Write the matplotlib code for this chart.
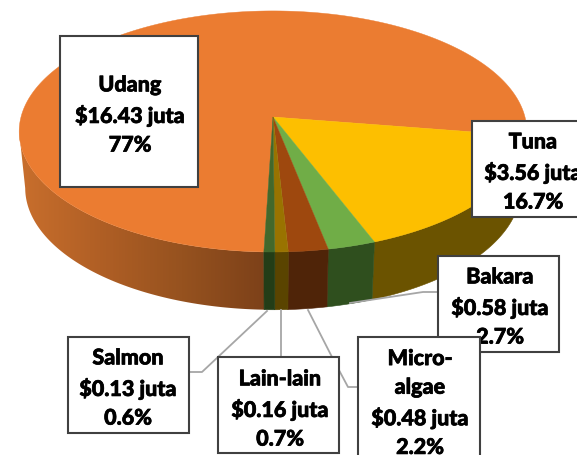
import numpy as np
import matplotlib
matplotlib.use("Agg")
import matplotlib.pyplot as plt
import matplotlib.patheffects as pe
from matplotlib.patches import Polygon, Rectangle
from matplotlib.colors import LinearSegmentedColormap

names = ["Udang", "Tuna", "Bakara", "Micro-\nalgae", "Lain-lain", "Salmon"]
values = [16.43, 3.56, 0.58, 0.48, 0.16, 0.13]
pct_labels = ["77%", "16.7%", "2.7%", "2.2%", "0.7%", "0.6%"]
colors = ["#EB7C31", "#FDBF00", "#70AD47", "#9E480E", "#997300", "#43682B"]
side_colors = ["#8A4A1E", "#6B5300", "#2F4F1E", "#4F2408", "#5A4400", "#233D17"]

plt.rcParams['font.family'] = ['Lato', 'DejaVu Sans']
fig = plt.figure(figsize=(5.77, 4.56), dpi=100)
ax = fig.add_axes([0, 0, 1, 1])

# tilted pie, circle mapped with a bit of perspective
def top_xy(t):
    d = 1 + 0.12 * np.sin(t)
    return 273 + 252 * np.cos(t) / d, 118 - 118.8 * np.sin(t) / d

def bot_xy(t):
    d = 1 + 0.12 * np.sin(t)
    return 273 + 246 * np.cos(t) / d, 174.4 - 120 * np.sin(t) / d

def wall(t):
    xa, ya = top_xy(t)
    xb, yb = bot_xy(t)
    return np.c_[np.r_[xa, xb[::-1]], np.r_[ya, yb[::-1]]]

total = sum(values)
# Tuna starts at -9 deg going clockwise, Udang goes round the back
a = -9.0 + 360 * values[0] / total
wedges = []
for i, v in enumerate(values):
    sweep = 360 * v / total
    wedges.append((i, a, a - sweep))
    a = a - sweep

# side wall first
for i, a0, a1 in wedges:
    t = np.radians(np.linspace(a0, a1, 300))
    if i == 0:
        # gradient on the big orange wall, only the front part shows
        t = np.radians(np.linspace(a0, 187, 300))
        clip = Polygon(wall(t), fc='none', ec='none', transform=ax.transData)
        ax.add_patch(clip)
        cmap = LinearSegmentedColormap.from_list("wall", ["#C96F2D", "#B05F25", "#96521F", "#7D4119"])
        im = ax.imshow(np.linspace(0, 1, 256)[None, :], cmap=cmap, extent=(18, 264, 320, 120), aspect='auto', zorder=1)
        im.set_clip_path(clip)
    else:
        ax.add_patch(Polygon(wall(t), fc=side_colors[i], ec=side_colors[i], lw=0.4, zorder=1))

# top face
for i, a0, a1 in wedges:
    t = np.radians(np.linspace(a0, a1, 300))
    xa, ya = top_xy(t)
    ax.add_patch(Polygon(np.c_[np.r_[273, xa], np.r_[118, ya]], fc=colors[i], ec=colors[i], lw=0.3, zorder=2))

# leader lines
leaders = [
    ([350, 423, 438], [304, 293, 293]),
    ([308, 332, 348, 358], [311, 358, 388, 388]),
    ([281, 281], [311, 358]),
    ([267, 202, 189], [312, 373, 373]),
]
for lx, ly in leaders:
    ax.plot(lx, ly, color="#A6A6A6", lw=1.3, zorder=3)

boxes = [
    (60, 37, 198, 188),
    (472, 122, 600, 218),
    (438, 257, 559, 353),
    (358, 338, 480, 480),
    (218, 358, 339, 454),
    (68, 338, 189, 434),
]
amount = ["$%.2f juta" % v for v in values]
text_x = [130, 533, 500, 420, 280, 128]
text_y = [116, 173, 308, 404, 410, 389]
layer = [4, 5, 6, 8, 7, 7]
for i, (x0, y0, x1, y1) in enumerate(boxes):
    ax.add_patch(Rectangle((x0, y0), x1 - x0, y1 - y0, fc="white", ec="#404040", lw=1.5, zorder=layer[i]))
    s = names[i] + "\n" + amount[i] + "\n" + pct_labels[i]
    txt = ax.text(text_x[i], text_y[i], s, ha='center', va='center', fontsize=15.5, fontweight=900,
                  color="black", linespacing=1.45, zorder=layer[i])
    # a hair thicker, Lato comes out lighter than the original
    txt.set_path_effects([pe.withStroke(linewidth=0.5, foreground="black")])

ax.set_xlim(0, 577)
ax.set_ylim(456, 0)
ax.axis('off')

fig.savefig("out.png", dpi=100)
